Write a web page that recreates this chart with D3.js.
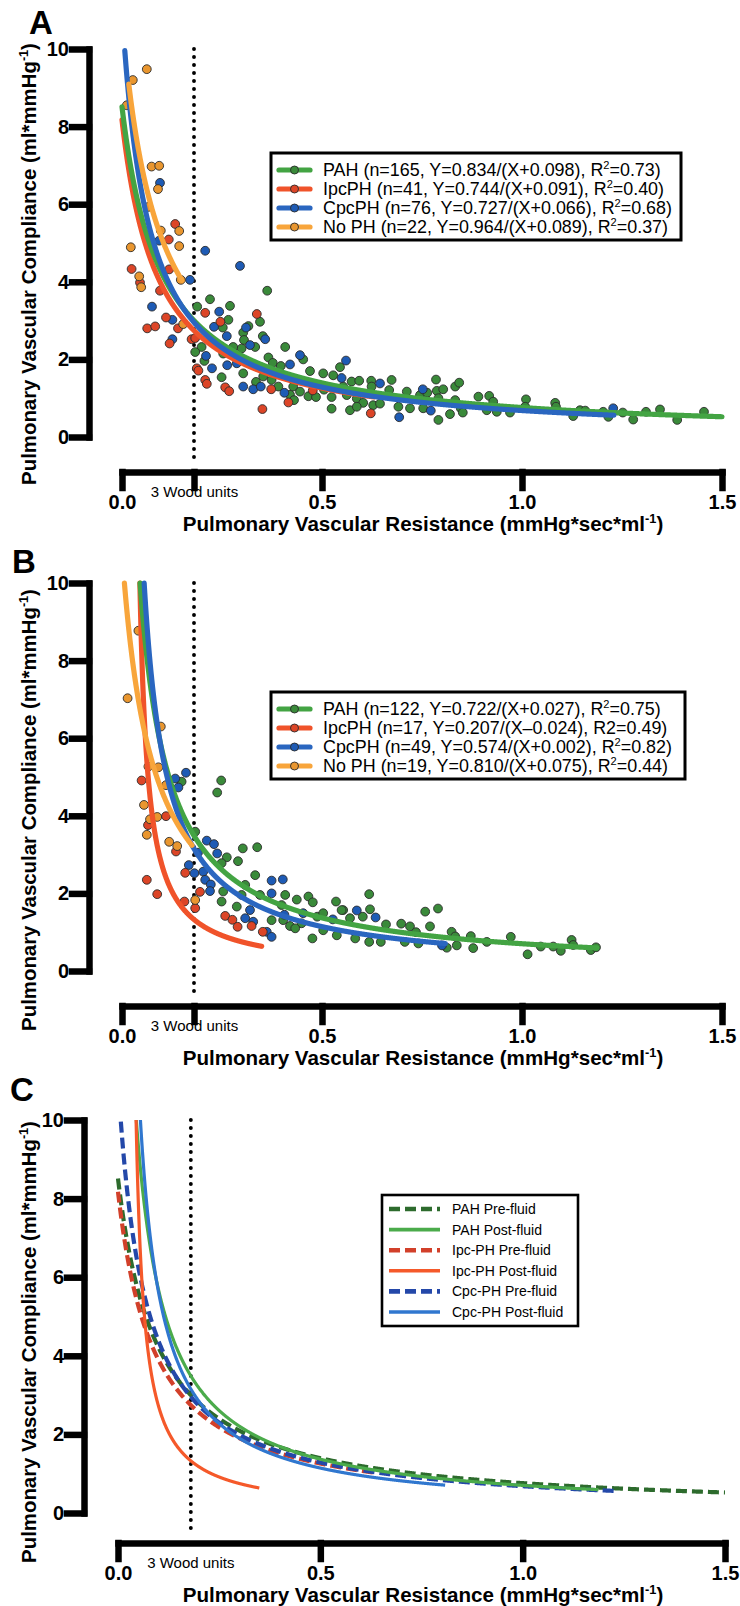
<!DOCTYPE html>
<html>
<head>
<meta charset="utf-8">
<script src="https://cdn.jsdelivr.net/npm/d3@7"></script>
<style>
body { margin: 0; background: #fff; }
svg { display: block; font-family: "Liberation Sans", Arial, Helvetica, sans-serif; }
</style>
</head>
<body>
<div id="chart"></div>
<script>
// ---- shared axis values ----
var xTicks = [0, 0.5, 1.0, 1.5];
var yTicks = [0, 2, 4, 6, 8, 10];
var woodUnits = 0.18;          // 3 Wood units in mmHg*sec*ml-1
var woodLabel = "3 Wood units";

// ---- panel A : pre-fluid scatter (X = PVR, Y = PAC) ----
var aPAH = [[0.363,3.77],[0.22,3.55],[0.188,3.36],[0.27,3.38],[0.266,3.02],[0.252,2.82],[0.345,2.97],[0.316,2.86],
  [0.303,2.69],[0.352,2.60],[0.305,2.50],[0.408,2.32],[0.333,2.32],[0.299,2.28],[0.199,2.32],[0.183,2.19],[0.206,1.96],
  [0.253,2.15],[0.278,2.32],[0.366,2.05],[0.377,1.91],[0.397,1.83],[0.453,2.00],[0.47,1.70],[0.249,1.54],[0.303,1.64],
  [0.353,1.56],[0.374,1.47],[0.42,1.09],[0.466,1.05],[0.485,1.03],[0.503,1.64],[0.528,1.59],[0.545,1.80],[0.524,1.03],
  [0.524,0.73],[0.553,1.30],[0.428,1.30],[0.391,1.30],[0.445,1.17],[0.505,1.22],[0.43,0.95],[0.335,1.42],
  [0.574,1.43],[0.593,1.45],[0.623,1.45],[0.674,1.47],[0.668,1.21],[0.624,1.30],[0.562,1.08],[0.587,0.99],[0.603,0.88],
  [0.628,0.82],[0.57,0.69],[0.587,0.78],[0.645,0.86],[0.691,0.78],[0.712,1.17],[0.72,0.74],[0.745,1.08],[0.763,1.14],
  [0.753,0.74],[0.785,1.48],[0.787,1.19],[0.803,1.23],[0.791,1.00],[0.791,0.44],[0.82,0.59],[0.833,0.95],[0.833,1.30],
  [0.843,1.40],[0.847,0.74],[0.852,0.63],[0.891,1.04],[0.918,1.06],[0.928,0.91],[0.912,0.69],[0.937,0.65],[0.97,0.63],
  [1.01,0.97],[1.008,0.78],[1.083,0.88],[1.085,0.78],[1.128,0.54],[1.145,0.69],[1.158,0.68],[1.203,0.65],[1.216,0.52],
  [1.252,0.63],[1.278,0.45],[1.31,0.65],[1.345,0.71],[1.388,0.44],[1.455,0.65]];
var aIpcPH = [[0.133,5.49],[0.117,5.09],[0.024,4.33],[0.118,4.32],[0.045,3.98],[0.095,3.77],[0.11,3.08],[0.063,2.80],
  [0.083,2.85],[0.14,2.80],[0.119,2.41],[0.208,3.20],[0.174,2.52],[0.187,1.77],[0.191,1.71],[0.208,1.47],[0.212,1.37],
  [0.258,1.28],[0.268,1.18],[0.337,3.17],[0.246,2.97],[0.373,1.23],[0.351,0.72],[0.416,0.89],[0.477,1.20],[0.183,2.55],
  [0.622,0.61]];
var aCpcPH = [[0.095,6.55],[0.093,5.06],[0.208,4.80],[0.295,4.41],[0.17,4.05],[0.075,3.36],[0.126,3.02],[0.126,2.52],
  [0.243,3.23],[0.262,2.60],[0.23,2.84],[0.21,2.09],[0.225,1.77],[0.263,1.85],[0.303,1.30],[0.328,1.23],[0.347,1.30],
  [0.32,2.37],[0.358,2.52],[0.42,1.87],[0.445,2.11],[0.406,1.14],[0.56,1.97],[0.31,2.82],[0.287,1.90],[0.549,1.52],
  [0.645,1.38],[0.693,0.51],[0.752,1.23],[0.772,0.68],[1.228,0.74]];
var aNoPH = [[0.062,9.48],[0.027,9.20],[0.012,8.55],[0.074,6.97],[0.093,6.99],[0.09,6.39],[0.066,5.93],[0.022,4.89],
  [0.043,4.14],[0.048,3.86],[0.143,5.31],[0.143,4.92],[0.097,5.32],[0.147,4.05],[0.153,2.91]];
// fits Y = a/(X+b) and the X span each fit is drawn over
var aFitA = [0.834, 0.744, 0.727, 0.964];
var aFitB = [0.098, 0.091, 0.066, 0.089];
var aFitFrom = [0, 0, 0.007, 0.017];
var aFitTo = [1.5, 0.63, 1.23, 0.15];
var aLegend = [
  ["PAH (n=165, Y=0.834/(X+0.098), R", "2", "=0.73)"],
  ["IpcPH (n=41, Y=0.744/(X+0.091), R", "2", "=0.40)"],
  ["CpcPH (n=76, Y=0.727/(X+0.066), R", "2", "=0.68)"],
  ["No PH (n=22, Y=0.964/(X+0.089), R", "2", "=0.37)"]];

// ---- panel B : post-fluid scatter ----
var bPAH = [[0.248,4.91],[0.238,4.60],[0.149,4.88],[0.183,3.59],[0.302,3.16],[0.338,3.19],[0.262,2.93],[0.29,2.83],
  [0.249,2.78],[0.333,2.47],[0.308,2.22],[0.253,2.05],[0.249,1.79],[0.287,1.66],[0.299,1.96],[0.345,1.96],[0.408,1.96],
  [0.437,1.84],[0.466,1.92],[0.477,1.77],[0.535,1.79],[0.553,1.57],[0.403,1.31],[0.42,1.16],[0.449,1.23],[0.476,0.84],
  [0.503,1.05],[0.537,0.92],[0.488,1.40],[0.503,1.49],[0.57,1.36],[0.374,1.31],[0.399,1.70],[0.433,1.10],
  [0.618,1.98],[0.62,1.59],[0.549,1.57],[0.602,1.40],[0.66,1.20],[0.698,1.22],[0.72,1.15],[0.758,1.53],[0.79,1.61],
  [0.77,1.15],[0.735,1.00],[0.583,0.84],[0.618,0.75],[0.647,0.75],[0.707,0.75],[0.741,0.71],[0.824,1.01],[0.833,0.89],
  [0.837,0.66],[0.812,0.60],[0.872,0.90],[0.878,0.59],[0.912,0.75],[0.972,0.88],[1.014,0.43],[1.047,0.63],[1.078,0.63],
  [1.097,0.52],[1.124,0.80],[1.128,0.67],[1.172,0.54],[1.185,0.61]];
var bIpcPH = [[0.049,4.91],[0.065,3.76],[0.11,3.99],[0.135,3.08],[0.062,2.35],[0.088,1.98],[0.158,2.53],[0.195,2.04],
  [0.156,1.79],[0.183,1.62],[0.258,1.42],[0.276,1.32],[0.289,1.14],[0.324,1.16],[0.352,1.01]];
var bCpcPH = [[0.16,5.11],[0.133,4.96],[0.141,4.73],[0.212,3.36],[0.23,3.27],[0.238,3.03],[0.19,3.05],[0.167,2.73],
  [0.181,2.52],[0.203,2.56],[0.208,2.35],[0.222,2.23],[0.22,2.06],[0.374,2.33],[0.402,2.36],[0.374,2.00],[0.32,1.57],
  [0.308,1.36],[0.328,1.27],[0.362,1.01],[0.374,0.88],[0.406,1.45],[0.453,1.49],[0.587,1.56],[0.527,1.33],[0.634,1.38],
  [0.80,0.66]];
var bNoPH = [[0.041,8.77],[0.014,7.03],[0.097,6.30],[0.066,5.27],[0.091,5.25],[0.055,4.28],[0.07,3.91],[0.088,3.97],
  [0.062,3.51],[0.118,3.33],[0.138,3.22],[0.11,4.79],[0.183,1.83]];
var bFitA = [0.722, 0.207, 0.574, 0.810];
var bFitB = [0.027, -0.024, 0.002, 0.075];
var bFitFrom = [0.0452, 0.0447, 0.0554, 0.006];
var bFitTo = [1.187, 0.349, 0.808, 0.175];
var bLegend = [
  ["PAH (n=122, Y=0.722/(X+0.027), R", "2", "=0.75)"],
  ["IpcPH (n=17, Y=0.207/(X\u20130.024), R2=0.49)", "", ""],
  ["CpcPH (n=49, Y=0.574/(X+0.002), R", "2", "=0.82)"],
  ["No PH (n=19, Y=0.810/(X+0.075), R", "2", "=0.44)"]];

// ---- panel C : fitted curves only ----
var cNames = ["PAH Pre-fluid", "PAH Post-fluid", "Ipc-PH Pre-fluid", "Ipc-PH Post-fluid", "Cpc-PH Pre-fluid", "Cpc-PH Post-fluid"];
var cFitA = [0.834, 0.722, 0.744, 0.207, 0.727, 0.574];
var cFitB = [0.098, 0.027, 0.091, -0.024, 0.066, 0.002];
var cFitFrom = [0, 0.0452, 0, 0.0447, 0.007, 0.0554];
var cFitTo = [1.5, 1.187, 0.63, 0.349, 1.23, 0.808];

// ---- styles ----
var abLine = ["#43a443", "#f0532a", "#2a66c0", "#f8a53b"];
var abDot = ["#3a8a3a", "#dc4527", "#1e5bb5", "#e9962f"];
var dotOrder = [0, 2, 1, 3];     // green, blue, red, orange
var lineOrder = [1, 0, 2, 3];
var cColor = ["#2d6b2d", "#4bab4b", "#d2402a", "#f5592a", "#2448a9", "#3077cf"];
var cDash = ["11,5", null, "11,5", null, "11,5", null];
var cWidth = [4.2, 3.2, 4.2, 3.2, 4.2, 3.2];

var W = 740, H = 1606;
var svg = d3.select("#chart").append("svg").attr("width", W).attr("height", H);

var panels = [
  {letter: "A", lx: 29, ly: 34, xRange: [122, 722], yRange: [437, 49], xAxisY: 472, yAxisX: 89, woodTick: true, ytc: 264,
   groups: [aPAH, aIpcPH, aCpcPH, aNoPH], fa: aFitA, fb: aFitB, from: aFitFrom, to: aFitTo,
   legend: aLegend, box: [271, 153, 410, 87]},
  {letter: "B", lx: 12, ly: 573, xRange: [122, 722], yRange: [971, 583], xAxisY: 1006, yAxisX: 89, woodTick: true, ytc: 810,
   groups: [bPAH, bIpcPH, bCpcPH, bNoPH], fa: bFitA, fb: bFitB, from: bFitFrom, to: bFitTo,
   legend: bLegend, box: [271, 692, 414, 87]},
  {letter: "C", lx: 10, ly: 1101, xRange: [118, 725], yRange: [1513, 1120], xAxisY: 1543, yAxisX: 84, woodTick: false, ytc: 1342}
];

function fitPoints(a, b, x0, x1) {
  return d3.range(x0, x1 + 0.0005, 0.0005).map(function (x) { return [x, a / (x + b)]; })
    .filter(function (d) { return d[1] <= 10.05; });
}

function addSup(textSel, parts, size) {
  textSel.append("tspan").text(parts[0]);
  if (parts[1]) {
    textSel.append("tspan").attr("dy", -size * 0.38).attr("font-size", size * 0.62).text(parts[1]);
    textSel.append("tspan").attr("dy", size * 0.38).text(parts[2]);
  }
}

panels.forEach(function (p) {
  var x = d3.scaleLinear().domain([0, 1.5]).range(p.xRange);
  var y = d3.scaleLinear().domain([0, 10]).range(p.yRange);
  var g = svg.append("g");

  // panel letter
  g.append("text").attr("x", p.lx).attr("y", p.ly).attr("font-size", 33).attr("font-weight", "bold").text(p.letter);

  // dotted 3 Wood units line
  g.append("line")
    .attr("x1", x(woodUnits)).attr("x2", x(woodUnits))
    .attr("y1", y(10)).attr("y2", p.xAxisY - 9)
    .attr("stroke", "#000").attr("stroke-width", 3.9)
    .attr("stroke-linecap", "round").attr("stroke-dasharray", "0,8");

  var line = d3.line().x(function (d) { return x(d[0]); }).y(function (d) { return y(d[1]); });

  if (p.groups) {
    // points
    dotOrder.forEach(function (k) {
      g.append("g").selectAll("circle").data(p.groups[k]).enter().append("circle")
        .attr("cx", function (d) { return x(d[0]); })
        .attr("cy", function (d) { return y(d[1]); })
        .attr("r", 4.4)
        .attr("fill", abDot[k]).attr("stroke", "#2b2b2b").attr("stroke-width", 0.9);
    });
    // fitted curves
    lineOrder.forEach(function (k) {
      g.append("path").datum(fitPoints(p.fa[k], p.fb[k], p.from[k], p.to[k]))
        .attr("d", line).attr("fill", "none")
        .attr("stroke", abLine[k]).attr("stroke-width", 5.2).attr("stroke-linecap", "round");
    });
    // legend
    var lg = g.append("g");
    lg.append("rect").attr("x", p.box[0]).attr("y", p.box[1]).attr("width", p.box[2]).attr("height", p.box[3])
      .attr("fill", "#fff").attr("stroke", "#000").attr("stroke-width", 3);
    p.legend.forEach(function (parts, i) {
      var cy = p.box[1] + 17 + i * 19;
      lg.append("line").attr("x1", p.box[0] + 8).attr("x2", p.box[0] + 39).attr("y1", cy).attr("y2", cy)
        .attr("stroke", abLine[i]).attr("stroke-width", 5.2).attr("stroke-linecap", "round");
      lg.append("circle").attr("cx", p.box[0] + 23.5).attr("cy", cy).attr("r", 4)
        .attr("fill", abDot[i]).attr("stroke", "#2b2b2b").attr("stroke-width", 0.9);
      var t = lg.append("text").attr("x", p.box[0] + 52).attr("y", cy + 6).attr("font-size", 17.9);
      addSup(t, parts, 17.9);
    });
  } else {
    [0, 2, 4, 1, 3, 5].forEach(function (k) {
      g.append("path").datum(fitPoints(cFitA[k], cFitB[k], cFitFrom[k], cFitTo[k]))
        .attr("d", line).attr("fill", "none")
        .attr("stroke", cColor[k]).attr("stroke-width", cWidth[k])
        .attr("stroke-dasharray", cDash[k]);
    });
    var cl = g.append("g");
    cl.append("rect").attr("x", 382).attr("y", 1195).attr("width", 196).attr("height", 131)
      .attr("fill", "#fff").attr("stroke", "#000").attr("stroke-width", 2.6);
    cNames.forEach(function (name, i) {
      var cy = 1209 + i * 20.6;
      cl.append("line").attr("x1", 389).attr("x2", 440).attr("y1", cy).attr("y2", cy)
        .attr("stroke", cColor[i]).attr("stroke-width", cWidth[i] + 0.4).attr("stroke-dasharray", cDash[i]);
      cl.append("text").attr("x", 452).attr("y", cy + 5).attr("font-size", 14).text(name);
    });
  }

  // y axis
  var ya = g.append("g").attr("transform", "translate(" + p.yAxisX + ",0)")
    .call(d3.axisLeft(y).tickValues(yTicks).tickSize(17).tickSizeOuter(0).tickPadding(3).tickFormat(d3.format("d")));
  // x axis
  var xv = p.woodTick ? [0, woodUnits, 0.5, 1, 1.5] : xTicks;
  var xa = g.append("g").attr("transform", "translate(0," + p.xAxisY + ")")
    .call(d3.axisBottom(x).tickValues(xv).tickSize(16).tickSizeOuter(0).tickPadding(7)
      .tickFormat(function (d) { return d === woodUnits ? woodLabel : d3.format(".1f")(d); }));

  [ya, xa].forEach(function (a) {
    a.attr("font-family", null).attr("font-size", null);
    a.select(".domain").attr("stroke-width", 6.5).attr("stroke-linecap", "square");
    a.selectAll(".tick line").attr("stroke-width", 6.5).attr("stroke-linecap", "square");
    a.selectAll(".tick text").attr("font-size", 20).attr("font-weight", "bold").attr("fill", "#000");
  });
  xa.selectAll(".tick text").filter(function (d) { return d === woodUnits; })
    .attr("font-size", 15).attr("font-weight", "normal").attr("y", 14.4);
  if (!p.woodTick) {
    g.append("text").attr("x", x(woodUnits)).attr("y", p.xAxisY + 25).attr("text-anchor", "middle")
      .attr("font-size", 15).text(woodLabel);
  }

  // axis titles
  var xt = g.append("text").attr("x", 423).attr("y", p.xAxisY + 59).attr("text-anchor", "middle")
    .attr("font-size", 20.6).attr("font-weight", "bold");
  addSup(xt, ["Pulmonary Vascular Resistance (mmHg*sec*ml", "-1", ")"], 20.6);
  var yt = g.append("text").attr("transform", "translate(36," + p.ytc + ") rotate(-90)")
    .attr("text-anchor", "middle").attr("font-size", 20.4).attr("font-weight", "bold");
  addSup(yt, ["Pulmonary Vascular Compliance (ml*mmHg", "-1", ")"], 20.4);
});
</script>
</body>
</html>
